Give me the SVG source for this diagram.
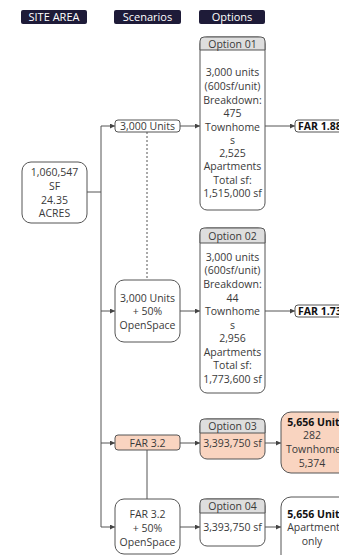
<svg xmlns="http://www.w3.org/2000/svg" width="339" height="555" viewBox="0 0 339 555">
<defs>
<style>
text{font-family:"Open Sans","Noto Sans","Liberation Sans",sans-serif;font-size:10.5px;fill:#3a3a3a;text-anchor:middle}
.hdr rect{fill:#1e1b38}
.hdr text{fill:#ffffff;font-size:11px}
.box{fill:#ffffff;stroke:#555555;stroke-width:1}
.sal{fill:#f9d4c0}
.hd{fill:#dedede;stroke:#555555;stroke-width:1}
.b{font-weight:bold;fill:#111111}
.con{fill:none;stroke:#555555;stroke-width:1}
</style>
<marker id="ah" viewBox="0 0 6 6" refX="6" refY="3" markerWidth="5" markerHeight="5" orient="auto" markerUnits="userSpaceOnUse">
<path d="M0,0 L6,3 L0,6 z" fill="#444444"/>
</marker>
</defs>
<rect width="339" height="555" fill="#ffffff"/>

<g id="connectors">
<path class="con" d="M87,192 H101"/>
<path class="con" d="M101,126 V527"/>
<path class="con" d="M101,126 H115" marker-end="url(#ah)"/>
<path class="con" d="M101,311 H115" marker-end="url(#ah)"/>
<path class="con" d="M101,443 H115" marker-end="url(#ah)"/>
<path class="con" d="M101,527 H115" marker-end="url(#ah)"/>
<path class="con" d="M180,126 H200" marker-end="url(#ah)"/>
<path class="con" d="M180,311 H200" marker-end="url(#ah)"/>
<path class="con" d="M180,443 H200" marker-end="url(#ah)"/>
<path class="con" d="M180,527 H200" marker-end="url(#ah)"/>
<path class="con" d="M265,126 H295" marker-end="url(#ah)"/>
<path class="con" d="M265,311 H295" marker-end="url(#ah)"/>
<path class="con" d="M265,443 H281" marker-end="url(#ah)"/>
<path class="con" d="M265,527 H281" marker-end="url(#ah)"/>
<path class="con" d="M147,132 V280" stroke-dasharray="2,2"/>
<path class="con" d="M147,450 V499" stroke="#aaaaaa" stroke-width="0.8"/>
</g>

<g id="hdr-site" class="hdr"><rect x="21" y="10" width="66" height="14" rx="2"/><text x="54" y="21">SITE AREA</text></g>
<g id="hdr-scen" class="hdr"><rect x="114" y="10" width="67" height="14" rx="2"/><text x="147.5" y="21">Scenarios</text></g>
<g id="hdr-opt" class="hdr"><rect x="199" y="10" width="66" height="14" rx="2"/><text x="232" y="21">Options</text></g>

<g id="site">
<rect class="box" x="22" y="162" width="65" height="61" rx="9"/>
<text x="54.5" y="176">1,060,547</text>
<text x="54.5" y="190">SF</text>
<text x="54.5" y="204">24.35</text>
<text x="54.5" y="217">ACRES</text>
</g>

<g id="scen1">
<rect class="box" x="115" y="120" width="65" height="12" rx="3"/>
<text x="147.5" y="130">3,000 Units</text>
</g>
<g id="scen2">
<rect class="box" x="115" y="280" width="65" height="62" rx="9"/>
<text x="147.5" y="302">3,000 Units</text>
<text x="147.5" y="315">+ 50%</text>
<text x="147.5" y="329">OpenSpace</text>
</g>
<g id="scen3">
<rect class="box sal" x="115" y="435" width="65" height="15" rx="3"/>
<text x="147.5" y="446.5">FAR 3.2</text>
</g>
<g id="scen4">
<rect class="box" x="115" y="499" width="65" height="55" rx="9"/>
<text x="147.5" y="518">FAR 3.2</text>
<text x="147.5" y="532">+ 50%</text>
<text x="147.5" y="546">OpenSpace</text>
</g>

<g id="opt1">
<rect class="box" x="200" y="37" width="65" height="173" rx="7"/>
<path class="hd" d="M200,50 V41 Q200,37 204,37 H261 Q265,37 265,41 V50 Z"/>
<text x="232.5" y="47.5">Option 01</text>
<text x="232.5" y="76">3,000 units</text>
<text x="232.5" y="90">(600sf/unit)</text>
<text x="232.5" y="104">Breakdown:</text>
<text x="232.5" y="117">475</text>
<text x="232.5" y="131">Townhome</text>
<text x="232.5" y="144">s</text>
<text x="232.5" y="157">2,525</text>
<text x="232.5" y="170">Apartments</text>
<text x="232.5" y="184">Total sf:</text>
<text x="232.5" y="197">1,515,000 sf</text>
</g>

<g id="opt2">
<rect class="box" x="200" y="228" width="65" height="165" rx="7"/>
<path class="hd" d="M200,243 V232 Q200,228 204,228 H261 Q265,228 265,232 V243 Z"/>
<text x="232.5" y="239.5">Option 02</text>
<text x="232.5" y="261">3,000 units</text>
<text x="232.5" y="274">(600sf/unit)</text>
<text x="232.5" y="288">Breakdown:</text>
<text x="232.5" y="302">44</text>
<text x="232.5" y="315">Townhome</text>
<text x="232.5" y="329">s</text>
<text x="232.5" y="342">2,956</text>
<text x="232.5" y="356">Apartments</text>
<text x="232.5" y="369">Total sf:</text>
<text x="232.5" y="383">1,773,600 sf</text>
</g>

<g id="opt3">
<rect class="box sal" x="200" y="419" width="65" height="40" rx="7"/>
<path class="hd" d="M200,433 V423 Q200,419 204,419 H261 Q265,419 265,423 V433 Z"/>
<text x="232.5" y="430">Option 03</text>
<text x="232.5" y="447">3,393,750 sf</text>
</g>

<g id="opt4">
<rect class="box" x="200" y="499" width="65" height="47" rx="7"/>
<path class="hd" d="M200,513 V503 Q200,499 204,499 H261 Q265,499 265,503 V513 Z"/>
<text x="232.5" y="510">Option 04</text>
<text x="232.5" y="531">3,393,750 sf</text>
</g>

<g id="res1">
<rect class="box" x="295" y="120" width="60" height="12" rx="3"/>
<text class="b" x="298" y="130" style="text-anchor:start">FAR 1.88</text>
</g>
<g id="res2">
<rect class="box" x="295" y="305" width="60" height="12" rx="3"/>
<text class="b" x="298" y="315" style="text-anchor:start">FAR 1.73</text>
</g>
<g id="res3">
<rect class="box sal" x="281" y="412" width="70" height="61" rx="10"/>
<text class="b" x="316" y="426">5,656 Units</text>
<text x="312" y="439">282</text>
<text x="316" y="453">Townhomes</text>
<text x="312" y="467">5,374</text>
</g>
<g id="res4">
<rect class="box" x="281" y="497" width="70" height="70" rx="10"/>
<text class="b" x="316" y="518">5,656 Units</text>
<text x="316" y="531">Apartments</text>
<text x="312" y="545">only</text>
</g>
</svg>
